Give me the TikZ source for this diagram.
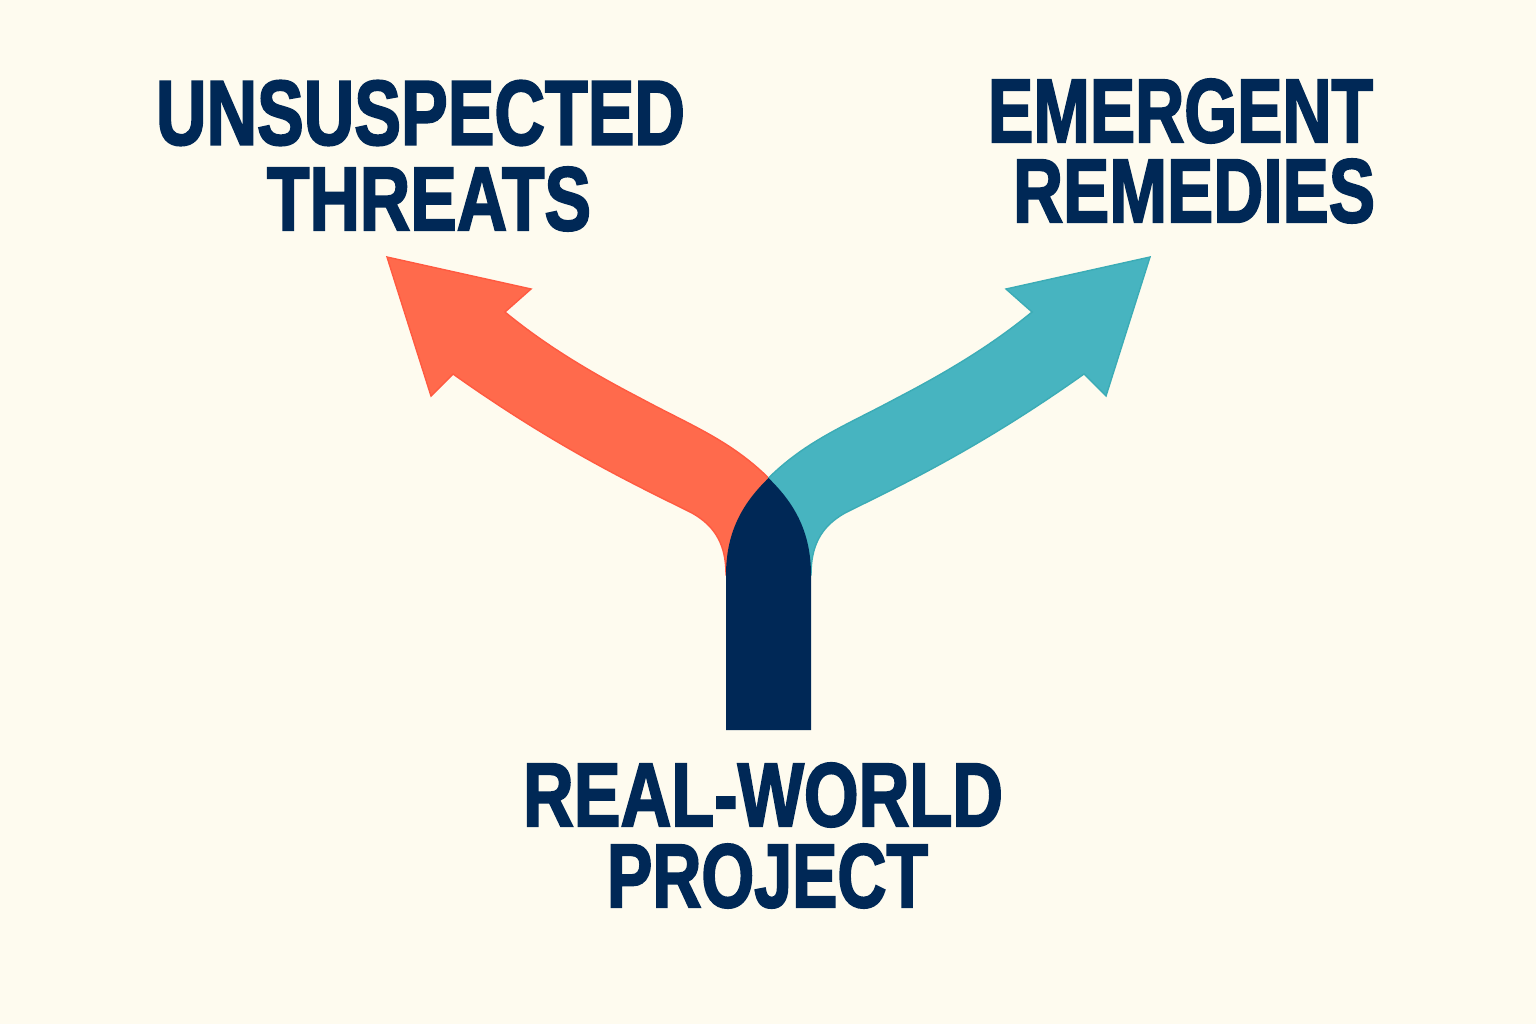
\documentclass[tikz,border=0pt]{standalone}
\usepackage{graphicx}
\usepackage{fontspec}
\setmainfont{Liberation Sans}
\newfontfamily\labelfont[BoldFeatures={FakeBold=2.5}]{Liberation Sans}
\usepackage{tikz}
\usetikzlibrary{positioning}
\definecolor{paper}{RGB}{254,251,239}
\definecolor{navyink}{RGB}{0,40,86}
\definecolor{threatcolor}{RGB}{255,106,76}
\definecolor{remedycolor}{RGB}{71,180,192}
\tikzset{
  label text/.style={inner sep=0pt, text=navyink, font=\labelfont\bfseries},
  threat band/.style={fill=threatcolor, draw=threatcolor!85!red, line width=0.4pt},
  remedy band/.style={fill=remedycolor, draw=remedycolor!85!teal, line width=0.4pt}
}

\begin{document}
\begin{tikzpicture}
    % Background
    \fill[paper] (0,0) rectangle (15.36,10.24);

    % Threats arrow (left)
    \draw[threat band] (7.26,4.49)
      .. controls (7.26,4.77) and (7.17,4.97) .. (6.92,5.11)
      .. controls (6.40,5.37) and (5.60,5.74) .. (4.53,6.50)
      -- (4.31,6.28) -- (3.87,7.67) -- (5.31,7.35) -- (5.05,7.12)
      .. controls (5.45,6.79) and (5.90,6.52) .. (6.40,6.26)
      .. controls (6.90,5.99) and (7.30,5.84) .. (7.685,5.46)
      -- (7.685,4.49) -- cycle;
    % Remedies arrow (right)
    \draw[remedy band] (8.11,4.49)
      .. controls (8.11,4.77) and (8.20,4.97) .. (8.45,5.11)
      .. controls (8.97,5.37) and (9.77,5.74) .. (10.84,6.50)
      -- (11.06,6.28) -- (11.50,7.67) -- (10.06,7.35) -- (10.32,7.12)
      .. controls (9.92,6.79) and (9.47,6.52) .. (8.97,6.26)
      .. controls (8.47,5.99) and (8.07,5.84) .. (7.685,5.46)
      -- (7.685,4.49) -- cycle;

    % Project stem
    \fill[navyink] (7.26,2.94) -- (7.26,4.49)
      .. controls (7.26,4.95) and (7.45,5.23) .. (7.685,5.46)
      .. controls (7.92,5.23) and (8.11,4.95) .. (8.11,4.49)
      -- (8.11,2.94) -- cycle;

    % Labels
    \node[label text] (threats1) at (4.205,9.11) {\resizebox{5.29cm}{0.64cm}{UNSUSPECTED}};
    \node[label text] (threats2) at (4.29,8.25) {\resizebox{3.24cm}{0.63cm}{THREATS}};
    \node[label text] (remedies1) at (11.805,9.13) {\resizebox{3.85cm}{0.63cm}{EMERGENT}};
    \node[label text] (remedies2) at (11.94,8.33) {\resizebox{3.62cm}{0.63cm}{REMEDIES}};
    \node[label text] (project1) at (7.63,2.29) {\resizebox{4.80cm}{0.63cm}{REAL-WORLD}};
    \node[label text] (project2) at (7.675,1.48) {\resizebox{3.21cm}{0.63cm}{PROJECT}};
  \end{tikzpicture}
\end{document}
